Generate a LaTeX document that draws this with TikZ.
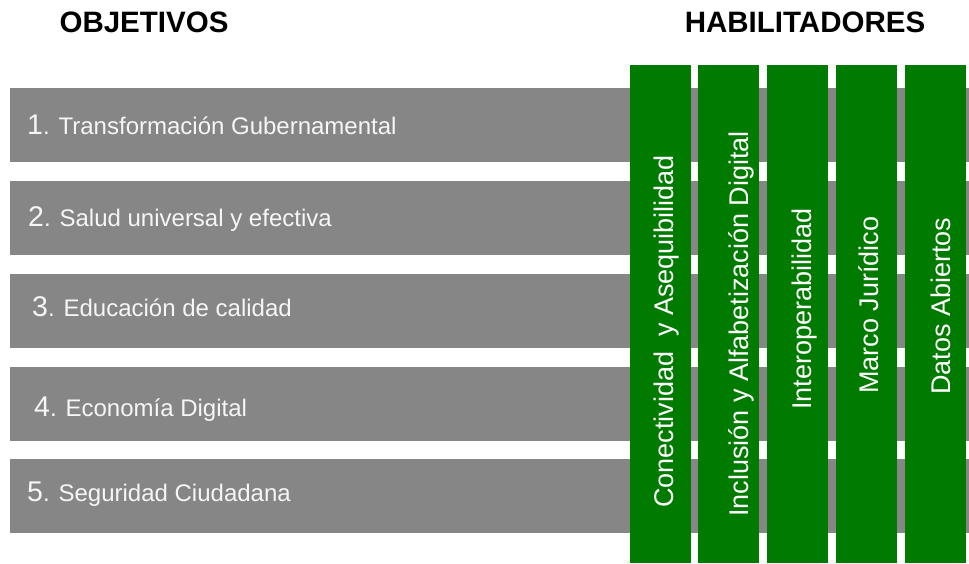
\documentclass[tikz,border=0pt]{standalone}
\usepackage{fontspec}
\setmainfont{Liberation Sans}
\definecolor{bargray}{RGB}{134,134,134}
\definecolor{colgreen}{RGB}{0,123,0}
\definecolor{bartext}{RGB}{246,246,246}
\begin{document}
\begin{tikzpicture}[x=1pt,y=-1pt,
  bar/.style={fill=bargray,draw=none,anchor=north west,inner sep=0pt,minimum width=959pt,minimum height=74pt},
  col/.style={fill=colgreen,draw=none,anchor=north west,inner sep=0pt,minimum width=61pt,minimum height=498pt},
  bartxt/.style={anchor=base west,inner sep=0pt,text=bartext,font=\fontsize{24}{28}\selectfont},
  coltxt/.style={anchor=base,inner sep=0pt,rotate=90,text=white,font=\fontsize{27}{32}\selectfont},
  head/.style={anchor=base,inner sep=0pt,font=\fontsize{29.5}{34}\selectfont\bfseries}]
\useasboundingbox (0,0) rectangle (969,563);
\newcommand{\bignum}[1]{{\fontsize{28.5}{34}\selectfont #1}}
% headers
\node[head] (hobj) at (144,32) {OBJETIVOS};
\node[head] (hhab) at (805,32) {HABILITADORES};
% bars
\node[bar] (b1) at (10,88) {};
\node[bar] (b2) at (10,181) {};
\node[bar] (b3) at (10,274) {};
\node[bar] (b4) at (10,367) {};
\node[bar] (b5) at (10,459) {};
% bar texts
\node[bartxt] (t1) at (27,134) {\bignum{1}. Transformación Gubernamental};
\node[bartxt] (t2) at (28,226) {\bignum{2}. Salud universal y efectiva};
\node[bartxt] (t3) at (32,316.5) {\bignum{3}. Educación de calidad};
\node[bartxt] (t4) at (34,416.5) {\bignum{4}. Economía Digital};
\node[bartxt] (t5) at (27,501) {\bignum{5}. Seguridad Ciudadana};
% columns
\node[col] (c1) at (630,65) {};
\node[col] (c2) at (697.5,65) {};
\node[col] (c3) at (767,65) {};
\node[col] (c4) at (835.5,65) {};
\node[col] (c5) at (904.3,65) {};
% column texts
\node[coltxt] (ct1) at (673,331.5) {Conectividad\ \ y Asequibilidad};
\node[coltxt] (ct2) at (748,324) {Inclusión y Alfabetización Digital};
\node[coltxt] (ct3) at (811.5,309) {Interoperabilidad};
\node[coltxt] (ct4) at (878,305) {Marco Jurídico};
\node[coltxt] (ct5) at (950,306) {Datos Abiertos};
\end{tikzpicture}
\end{document}
